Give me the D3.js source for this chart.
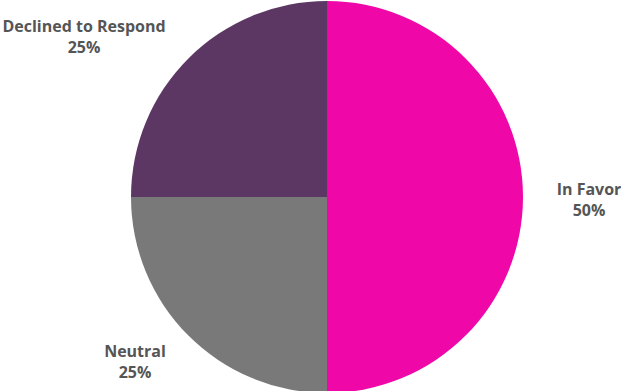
<!DOCTYPE html>
<html>
<head>
<meta charset="utf-8">
<script src="https://cdn.jsdelivr.net/npm/d3@7"></script>
<style>
  html, body { margin: 0; padding: 0; background: #fff; }
  svg { display: block; }
  text { font-family: "Open Sans", sans-serif; font-weight: 700; fill: #555; }
</style>
</head>
<body>
<svg id="chart" width="621" height="391"></svg>
<script>
const categories = ["In Favor", "Neutral", "Declined to Respond"];
const values = [50, 25, 25];
const colors = ["#F007A8", "#7A7979", "#5D3764"];

const width = 621, height = 391;
const cx = 327, cy = 197, radius = 196;

const svg = d3.select("#chart");
const g = svg.append("g").attr("transform", `translate(${cx},${cy})`);

const data = categories.map((c, i) => ({ label: c, value: values[i], color: colors[i] }));
const total = d3.sum(values);

const pie = d3.pie().value(d => d.value).sort(null);
const arc = d3.arc().innerRadius(0).outerRadius(radius);
const arcs = pie(data);

g.selectAll("path.slice")
  .data(arcs)
  .join("path")
  .attr("class", "slice")
  .attr("d", arc)
  .attr("fill", d => d.data.color);

// Label anchors relative to the pie centre, one per slice
const labelOffsets = [[262, -2], [-192, 160], [-243, -165]];

const labels = g.selectAll("g.label")
  .data(arcs)
  .join("g")
  .attr("class", "label")
  .attr("transform", (d, i) => `translate(${labelOffsets[i][0]},${labelOffsets[i][1]})`);

labels.append("text")
  .attr("text-anchor", "middle")
  .attr("font-size", 16)
  .text(d => d.data.label);

labels.append("text")
  .attr("text-anchor", "middle")
  .attr("font-size", 16)
  .attr("y", 21)
  .text(d => d3.format(".0%")(d.data.value / total));
</script>
</body>
</html>
